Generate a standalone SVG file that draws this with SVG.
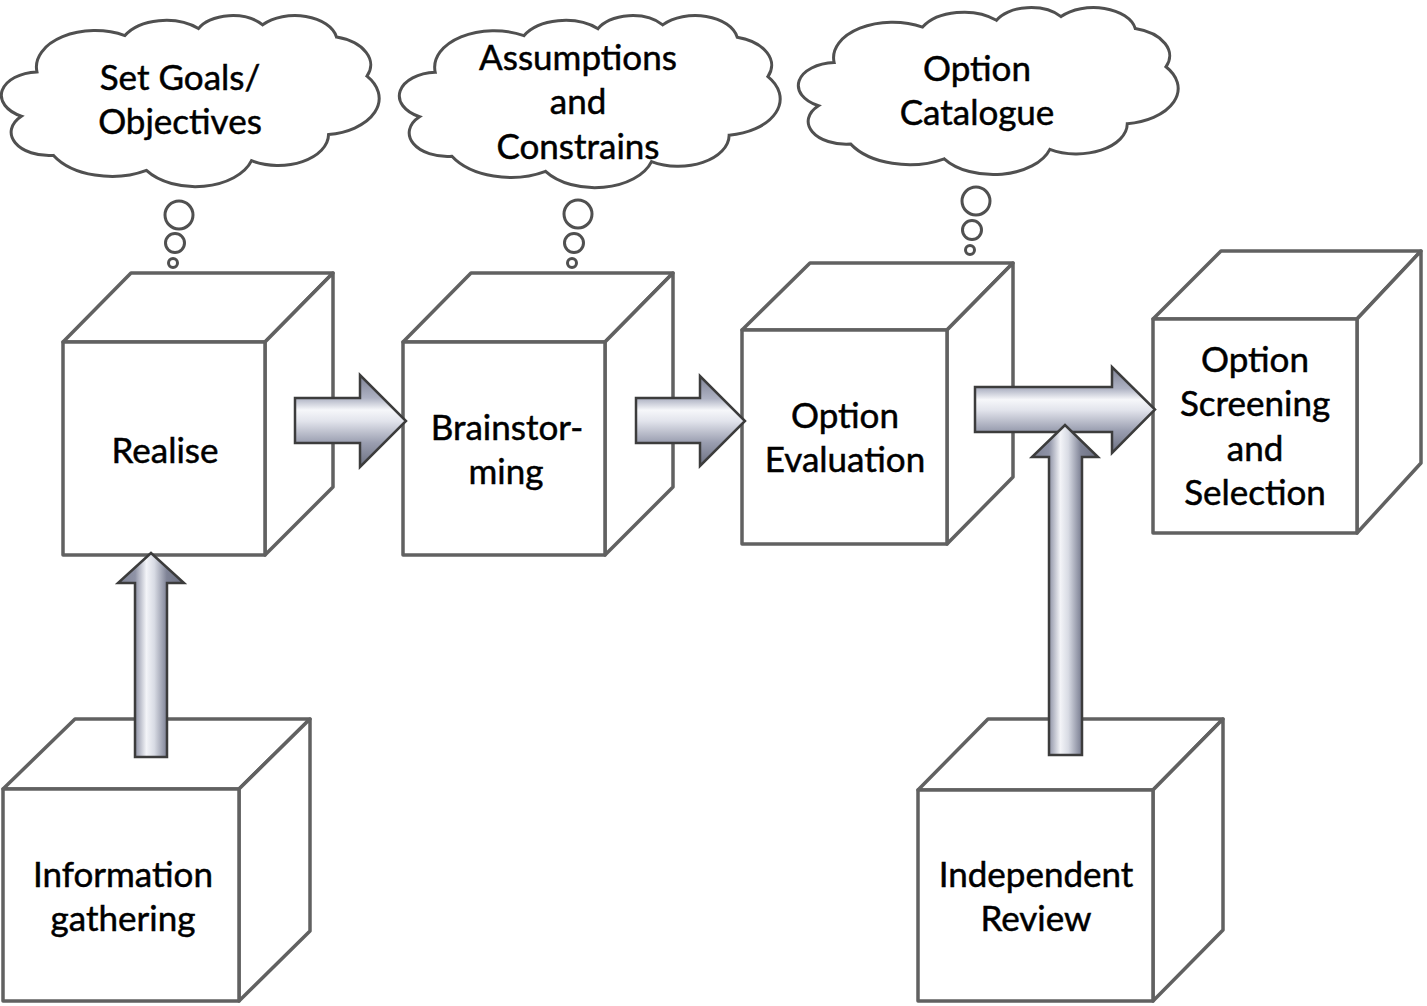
<svg xmlns="http://www.w3.org/2000/svg" xmlns:xlink="http://www.w3.org/1999/xlink" width="1427" height="1006" viewBox="0 0 1427 1006">
<style>
.cube path, .cube rect { fill:#ffffff; stroke:#616161; stroke-width:3.5; stroke-linejoin:round; }
.cloud { fill:#ffffff; stroke:#505050; stroke-width:3; vector-effect:non-scaling-stroke; }
.bubble { fill:#ffffff; stroke:#505050; stroke-width:3; }
.lbl { font-family:"Lato","Open Sans","Liberation Sans",sans-serif; font-size:35px; fill:#000000; stroke:#000000; stroke-width:0.5; text-anchor:middle; }
.harrow { fill:url(#gh); stroke:#3c3c3c; stroke-width:2.5; stroke-linejoin:miter; }
.varrow { fill:url(#gv); stroke:#3c3c3c; stroke-width:2.5; stroke-linejoin:miter; }
</style>
<defs>
<linearGradient id="gh" x1="0" y1="0" x2="0" y2="1">
<stop offset="0" stop-color="#7d8194"/>
<stop offset="0.25" stop-color="#aeb2c3"/>
<stop offset="0.38" stop-color="#f6f7fa"/>
<stop offset="0.5" stop-color="#e2e4ec"/>
<stop offset="0.74" stop-color="#9a9eb0"/>
<stop offset="1" stop-color="#6b6f80"/>
</linearGradient>
<linearGradient id="gv" x1="0" y1="0" x2="1" y2="0">
<stop offset="0" stop-color="#7d8194"/>
<stop offset="0.26" stop-color="#8f93a6"/>
<stop offset="0.43" stop-color="#f3f4f8"/>
<stop offset="0.55" stop-color="#d8dbe4"/>
<stop offset="0.74" stop-color="#7f8396"/>
<stop offset="1" stop-color="#6b6f80"/>
</linearGradient>
<path id="cloudshape" class="cloud" d="M90.28,332.64 A156.32,212.73 0 0 1 324.21,120.43 A123.45,168.22 0 0 1 519.82,79.45 A101.04,137.62 0 0 1 690.59,57.44 A112.43,152.66 0 0 1 887.01,129.09 A123.45,168.36 0 0 1 968.04,357.88 A156.83,213.43 0 0 1 865.83,699.11 A133.91,182.11 0 0 1 661.01,852.12 A156.30,213.31 0 0 1 381.49,908.90 A178.70,244.05 0 0 1 134.32,821.05 A100.93,136.99 0 0 1 48.85,591.42 A100.58,137.62 0 0 1 90.28,332.64 Z"/>
</defs>

<g id="cloud-goals">
<use xlink:href="#cloudshape" href="#cloudshape" transform="translate(3,15) scale(0.376,0.171)"/>
<circle class="bubble" cx="179" cy="215" r="14"/>
<circle class="bubble" cx="175" cy="243" r="9.5"/>
<circle class="bubble" cx="173" cy="263" r="4.5"/>
<text class="lbl" x="180" y="90">Set Goals/</text>
<text class="lbl" x="180" y="134">Objectives</text>
</g>

<g id="cloud-assumptions">
<use xlink:href="#cloudshape" href="#cloudshape" transform="translate(401,15) scale(0.379,0.172)"/>
<circle class="bubble" cx="578" cy="214" r="14"/>
<circle class="bubble" cx="574" cy="243" r="9.5"/>
<circle class="bubble" cx="572" cy="263" r="4.5"/>
<text class="lbl" x="578" y="70">Assumptions</text>
<text class="lbl" x="578" y="114">and</text>
<text class="lbl" x="578" y="159">Constrains</text>
</g>

<g id="cloud-catalogue">
<use xlink:href="#cloudshape" href="#cloudshape" transform="translate(800,7) scale(0.378,0.167)"/>
<circle class="bubble" cx="976" cy="201" r="14"/>
<circle class="bubble" cx="972" cy="230" r="9.5"/>
<circle class="bubble" cx="970" cy="250" r="4.5"/>
<text class="lbl" x="977" y="81">Option</text>
<text class="lbl" x="977" y="125">Catalogue</text>
</g>

<g id="realise" class="cube">
<path d="M63,342 L131,273 L333,273 L265,342 Z"/>
<path d="M265,342 L333,273 L333,487 L265,555 Z"/>
<rect x="63" y="342" width="202" height="213"/>
<text class="lbl" x="165" y="463">Realise</text>
</g>

<g id="brainstorming" class="cube">
<path d="M403,342 L471,273 L673,273 L605,342 Z"/>
<path d="M605,342 L673,273 L673,487 L605,555 Z"/>
<rect x="403" y="342" width="202" height="213"/>
<text class="lbl" x="507" y="440">Brainstor-</text>
<text class="lbl" x="506" y="484">ming</text>
</g>

<g id="option-evaluation" class="cube">
<path d="M742,330 L810,263 L1013,263 L947,330 Z"/>
<path d="M947,330 L1013,263 L1013,477 L947,544 Z"/>
<rect x="742" y="330" width="205" height="214"/>
<text class="lbl" x="845" y="428">Option</text>
<text class="lbl" x="845" y="472">Evaluation</text>
</g>

<g id="option-screening" class="cube">
<path d="M1153,319 L1221,251 L1421,251 L1357,319 Z"/>
<path d="M1357,319 L1421,251 L1421,463 L1357,533 Z"/>
<rect x="1153" y="319" width="204" height="214"/>
<text class="lbl" x="1255" y="372">Option</text>
<text class="lbl" x="1255" y="416">Screening</text>
<text class="lbl" x="1255" y="461">and</text>
<text class="lbl" x="1255" y="505">Selection</text>
</g>

<g id="information-gathering" class="cube">
<path d="M3,789 L75,719 L310,719 L239,789 Z"/>
<path d="M239,789 L310,719 L310,931 L239,1001 Z"/>
<rect x="3" y="789" width="236" height="212"/>
<text class="lbl" x="123" y="887">Information</text>
<text class="lbl" x="123" y="931">gathering</text>
</g>

<g id="independent-review" class="cube">
<path d="M918,790 L988,719 L1223,719 L1153,790 Z"/>
<path d="M1153,790 L1223,719 L1223,930 L1153,1001 Z"/>
<rect x="918" y="790" width="235" height="211"/>
<text class="lbl" x="1036" y="887">Independent</text>
<text class="lbl" x="1036" y="931">Review</text>
</g>

<g id="connectors">
<polygon class="harrow" points="295,398 360,398 360,375 406,421 360,467 360,443 295,443"/>
<polygon class="harrow" points="636,398 700,398 700,376 745,421 700,466 700,443 636,443"/>
<polygon class="harrow" points="975,387 1112,387 1112,367 1155,409.5 1112,453 1112,432 975,432"/>
<polygon class="varrow" points="135,757 135,583 118,583 151,553 184,583 167,583 167,757"/>
<polygon class="varrow" points="1049,755 1049,457 1032,457 1065,425 1098,457 1082,457 1082,755"/>
</g>
</svg>
